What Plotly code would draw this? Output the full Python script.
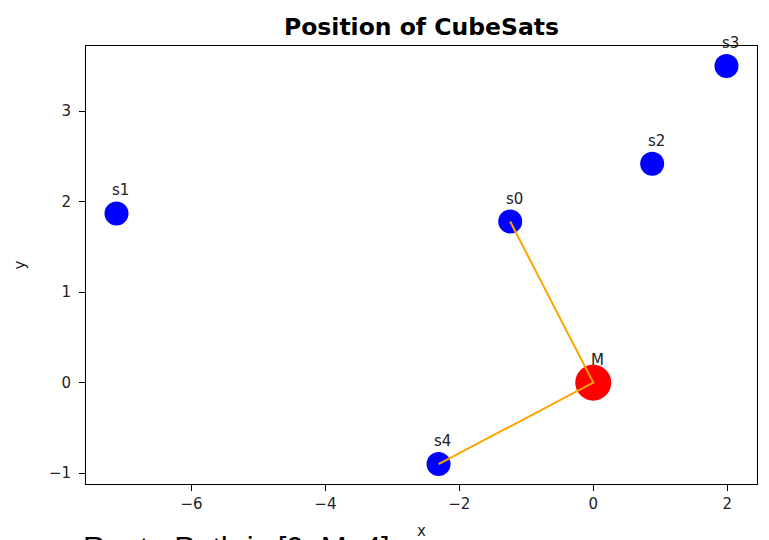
import plotly.graph_objects as go

names = ["s0", "s1", "s2", "s3", "s4"]
sat_x = [-1.24, -7.12, 0.88, 1.99, -2.31]
sat_y = [1.78, 1.87, 2.42, 3.50, -0.90]
mother_name = "M"
mother_x = [0.0]
mother_y = [0.0]
route = [0, "M", 4]
x_ticks = [-6, -4, -2, 0, 2]
y_ticks = [-1, 0, 1, 2, 3]

def coord(node):
    if node == "M":
        return mother_x[0], mother_y[0]
    return sat_x[node], sat_y[node]

route_x = [coord(n)[0] for n in route]
route_y = [coord(n)[1] for n in route]

font = "DejaVu Sans"
txt = "#222"
fig = go.Figure()
fig.add_trace(go.Scatter(x=sat_x, y=sat_y, mode="markers",
                         marker=dict(color="blue", size=24, line=dict(width=0)),
                         hoverinfo="skip", cliponaxis=False))
fig.add_trace(go.Scatter(x=mother_x, y=mother_y, mode="markers",
                         marker=dict(color="red", size=36, line=dict(width=0)),
                         hoverinfo="skip", cliponaxis=False))
fig.add_trace(go.Scatter(x=route_x, y=route_y, mode="lines",
                         line=dict(color="orange", width=2),
                         hoverinfo="skip", cliponaxis=False))

for n, xv, yv in zip(names + [mother_name], sat_x + mother_x, sat_y + mother_y):
    fig.add_annotation(x=xv, y=yv, text=n, showarrow=False, xref="x", yref="y",
                       xshift=4, yshift=23, font=dict(family=font, size=15, color=txt))

x0 = min(sat_x + mother_x); x1 = max(sat_x + mother_x)
y0 = min(sat_y + mother_y); y1 = max(sat_y + mother_y)
mx = (x1 - x0) * 0.05; my = (y1 - y0) * 0.05

axis_common = dict(showgrid=False, zeroline=False, showline=True, linecolor="black",
                   linewidth=1, mirror=True, ticks="outside", ticklen=6, tickwidth=1,
                   tickcolor="black", tickfont=dict(family=font, size=15, color=txt))

fig.update_layout(
    width=769, height=540,
    margin=dict(l=86, r=12, t=46, b=56, autoexpand=False),
    paper_bgcolor="white", plot_bgcolor="white",
    showlegend=False,
    title=dict(text="<b>Position of CubeSats</b>", x=(86 + 757) / 2 / 769, xanchor="center",
               y=1 - 27 / 540, yanchor="middle", font=dict(family=font, size=23.5, color="black")),
    xaxis=dict(range=[x0 - mx, x1 + mx], tickvals=x_ticks,
               title=dict(text="x", font=dict(family=font, size=15, color=txt), standoff=20),
               **axis_common),
    yaxis=dict(range=[y0 - my, y1 + my], tickvals=y_ticks, ticklabelstandoff=5,
               title=dict(text="y", font=dict(family=font, size=15, color=txt), standoff=19),
               **axis_common),
)
fig.add_annotation(x=-5 / 671, y=-(529 - 484) / 438, xref="paper", yref="paper",
                   xanchor="left", yanchor="top", showarrow=False,
                   text="Route Path is [0, M, 4]",
                   font=dict(family="Liberation Sans", size=31, color="black"))

fig.write_html("out.html")
